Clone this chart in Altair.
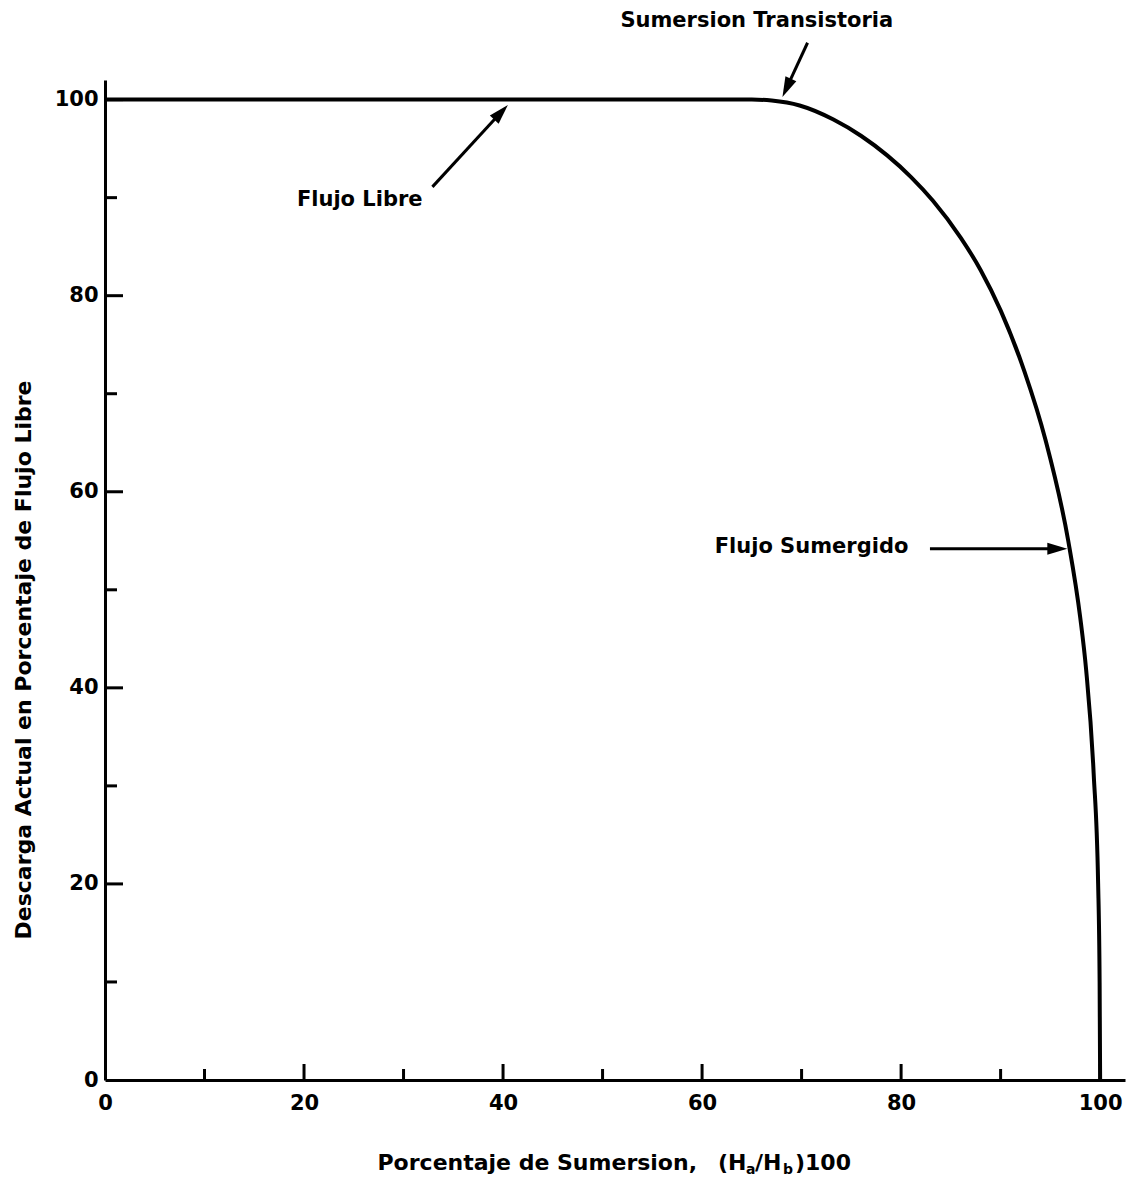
import altair as alt
import pandas as pd

FONT = "DejaVu Sans"

# Curve: discharge (% of free flow) vs submergence (%)
curve_x = [0, 30, 60, 65, 67, 69.8, 73.2, 76, 78.6, 81, 83.2, 86, 88, 90,
           92.4, 94.5, 96.8, 98.0, 98.6, 99.35, 99.8, 99.95, 100.0]
curve_y = [100, 100, 100, 100, 99.9, 99.4, 97.97, 96.29, 94.31, 92.1, 89.68, 85.9, 82.6, 78.5,
           72.26, 65.33, 54.98, 47.18, 41.78, 31.28, 20.03, 9.98, 0]

x_labels = [0, 20, 40, 60, 80, 100]
y_labels = [0, 20, 40, 60, 80, 100]
x_major = [20, 40, 60, 80, 100]
x_minor = [10, 30, 50, 70, 90]
y_major = [20, 40, 60, 80, 100]
y_minor = [10, 30, 50, 70, 90]

# Annotations
ann_text = ["Flujo Libre", "Sumersion Transistoria", "Flujo Sumergido"]
ann_x = [25.6, 65.5, 71.0]
ann_y = [89.8, 108.0, 54.4]
arr_x1 = [32.9, 70.6, 82.9]
arr_y1 = [91.1, 105.8, 54.2]
arr_x2 = [39.8, 68.5, 95.7]
arr_y2 = [98.7, 101.2, 54.2]
arr_angle = [43, 205, 90]

# X-axis title pieces (with subscripts)
xt_text = ["Porcentaje de Sumersion,", "(H", "a", "/H", "b", ")100"]
xt_px = [592, 613, 641, 650, 678, 690]
xt_py = [1083, 1083, 1090, 1083, 1090, 1083]
xt_fs = [22, 22, 14, 22, 14, 22]
xt_align = ["right", "left", "left", "left", "left", "left"]

ytitle = "Descarga Actual en Porcentaje de Flujo Libre"

curve_df = pd.DataFrame({"x": curve_x, "y": curve_y})
ann_df = pd.DataFrame({"t": ann_text, "x": ann_x, "y": ann_y})
arr_df = pd.DataFrame({"x1": arr_x1, "y1": arr_y1, "x2": arr_x2, "y2": arr_y2, "a": arr_angle})

xs = alt.Scale(domain=[0, 102.5], nice=False, zero=False)
ys = alt.Scale(domain=[0, 102], nice=False, zero=False)

H = 1000
W = 1020

axis_common = dict(title=None, grid=False, ticks=False, domainColor="black", domainWidth=3,
                   labelFont=FONT, labelFontSize=21, labelFontWeight="bold", labelColor="black",
                   labelFlush=False, labelOverlap=False)
XAX = alt.Axis(values=x_labels, labelPadding=12, **axis_common)
YAX = alt.Axis(values=y_labels, labelPadding=7, **axis_common)

curve = alt.Chart(curve_df).mark_line(color="black", strokeWidth=4, interpolate="monotone").encode(
    x=alt.X("x:Q", scale=xs, axis=XAX),
    y=alt.Y("y:Q", scale=ys, axis=YAX),
)

def xticks(vals, length):
    return alt.Chart(pd.DataFrame({"v": vals})).mark_rule(color="black", strokeWidth=3).encode(
        x=alt.X("v:Q", scale=xs, axis=XAX),
        y=alt.value(H),
        y2=alt.value(H - length),
    )

def yticks(vals, length):
    return alt.Chart(pd.DataFrame({"v": vals})).mark_rule(color="black", strokeWidth=3).encode(
        y=alt.Y("v:Q", scale=ys, axis=YAX),
        x=alt.value(0),
        x2=alt.value(length),
    )

arrows = alt.Chart(arr_df).mark_rule(color="black", strokeWidth=3).encode(
    x=alt.X("x1:Q", scale=xs, axis=XAX),
    y=alt.Y("y1:Q", scale=ys, axis=YAX),
    x2="x2:Q",
    y2="y2:Q",
)

heads = alt.Chart(arr_df).mark_point(
    shape="M0,-1L0.6,1L-0.6,1Z", filled=True, color="black", opacity=1, size=400, strokeWidth=0
).encode(
    x=alt.X("x2:Q", scale=xs, axis=XAX),
    y=alt.Y("y2:Q", scale=ys, axis=YAX),
    angle=alt.Angle("a:Q", scale=None),
)

labels = alt.Chart(ann_df).mark_text(
    font=FONT, fontSize=21, fontWeight="bold", color="black", align="center", baseline="middle"
).encode(
    x=alt.X("x:Q", scale=xs, axis=XAX),
    y=alt.Y("y:Q", scale=ys, axis=YAX),
    text="t:N",
)

xtitle_layers = []
for t, px, py, fs, al in zip(xt_text, xt_px, xt_py, xt_fs, xt_align):
    xtitle_layers.append(
        alt.Chart(pd.DataFrame({"t": [t]})).mark_text(
            font=FONT, fontSize=fs, fontWeight="bold", color="black", align=al, baseline="middle"
        ).encode(x=alt.value(px), y=alt.value(py), text="t:N")
    )

ytitle_mark = alt.Chart(pd.DataFrame({"t": [ytitle]})).mark_text(
    font=FONT, fontSize=22, fontWeight="bold", color="black", align="center", baseline="middle", angle=270
).encode(x=alt.value(-81), y=alt.value(580), text="t:N")

chart = alt.layer(
    curve,
    xticks(x_major, 16), xticks(x_minor, 11),
    yticks(y_major, 18), yticks(y_minor, 12),
    arrows, heads, labels, ytitle_mark, *xtitle_layers,
).properties(
    width=W, height=H,
    autosize=alt.AutoSizeParams(type="none"),
    padding={"left": 97, "top": 72, "right": 5, "bottom": 100},
    background="white",
).configure_view(strokeWidth=0)

chart.save("out.html", embed_options={"renderer": "svg", "actions": False})
